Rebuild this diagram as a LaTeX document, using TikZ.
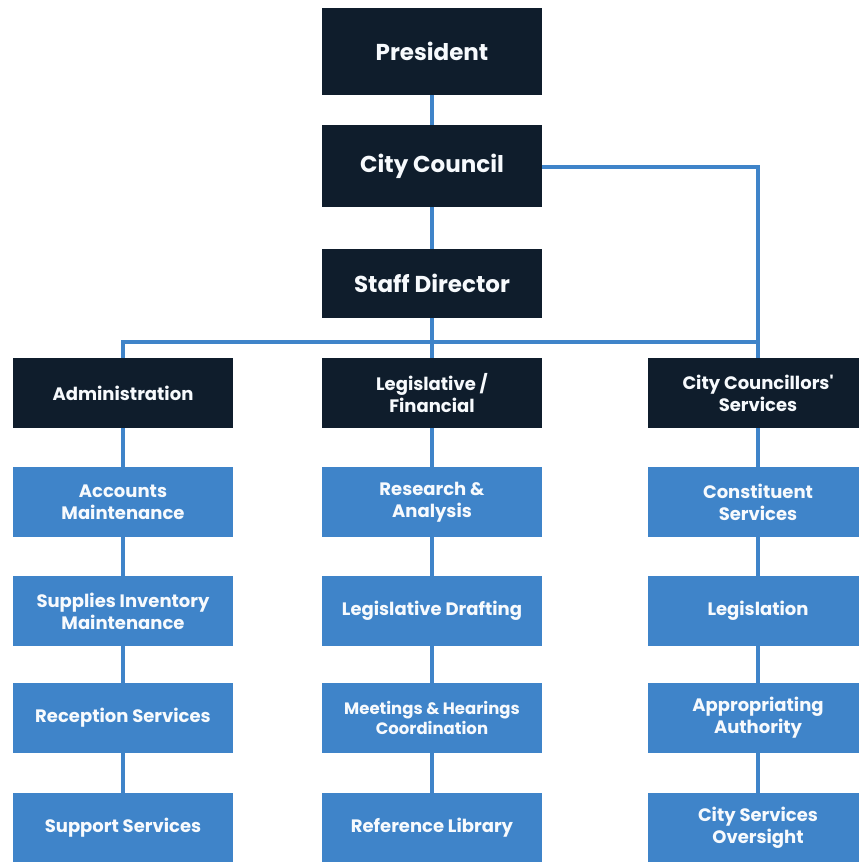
\documentclass[tikz,border=0pt]{standalone}
\usepackage{fontspec}
\setmainfont{Poppins}[Ligatures=TeXOff]
\usetikzlibrary{backgrounds}
\definecolor{navy}{HTML}{0F1D2C}
\definecolor{midblue}{HTML}{3F84C9}
\begin{document}
\begin{tikzpicture}[x=1pt,y=-1pt,
  box/.style={minimum width=220pt,inner sep=0pt,align=center,text=white!96!midblue,font=\bfseries},
  topbox/.style={box,fill=navy,font=\bfseries\fontsize{23}{26}\selectfont},
  headbox/.style={box,fill=navy,minimum height=70pt,font=\bfseries\fontsize{18}{22}\selectfont},
  unitbox/.style={box,fill=midblue,minimum height=70pt,font=\bfseries\fontsize{18}{22}\selectfont},
  link/.style={draw=midblue,line width=3.2pt}]
\useasboundingbox (0,0) rectangle (859,862);
\clip (0,0) rectangle (859,862);
% top chain
\node[topbox,minimum height=87pt] (pres) at (432,51.5) {President};
\node[topbox,minimum height=82pt] (council) at (432,166) {City Council};
\node[topbox,minimum height=69pt] (staff) at (432,283.5) {Staff Director};
% heads
\node[headbox] (admin) at (123,393) {Administration};
\node[headbox] (legis) at (432,393) {Legislative /\\Financial};
\node[headbox] (ccs) at (758,393) {City Councillors'\\Services};
% units
\node[unitbox] (a1) at (123,502) {Accounts\\Maintenance};
\node[unitbox] (a2) at (123,611) {Supplies Inventory\\Maintenance};
\node[unitbox] (a3) at (123,718) {Reception Services};
\node[unitbox] (a4) at (123,828) {Support Services};
\node[unitbox] (l1) at (432,502) {Research \&\\Analysis};
\node[unitbox] (l2) at (432,611) {Legislative Drafting};
\node[unitbox,font=\bfseries\fontsize{16.5}{20}\selectfont] (l3) at (432,718) {Meetings \& Hearings\\Coordination};
\node[unitbox] (l4) at (432,828) {Reference Library};
\node[unitbox] (c1) at (758,502) {Constituent\\Services};
\node[unitbox] (c2) at (758,611) {Legislation};
\node[unitbox] (c3) at (758,718) {Appropriating\\Authority};
\node[unitbox] (c4) at (758,828) {City Services\\Oversight};
\coordinate (busL) at (123,342);
\coordinate (busR) at (758,342);
\coordinate (cTurn) at (758,167);
\begin{scope}[on background layer]
\fill[white] (0,0) rectangle (859,862);
\draw[link] (pres) -- (council);
\draw[link] (council) -- (staff);
\draw[link] (council.east |- cTurn) -- (cTurn) -- (ccs);
\draw[link] (staff) -- (legis);
\draw[link] (admin) -- (busL) -- (busR);
\foreach \c in {a,l,c}{
  \draw[link] (\c1) -- (\c2) -- (\c3) -- (\c4);}
\draw[link] (admin) -- (a1);
\draw[link] (legis) -- (l1);
\draw[link] (ccs) -- (c1);
\end{scope}
\end{tikzpicture}
\end{document}
